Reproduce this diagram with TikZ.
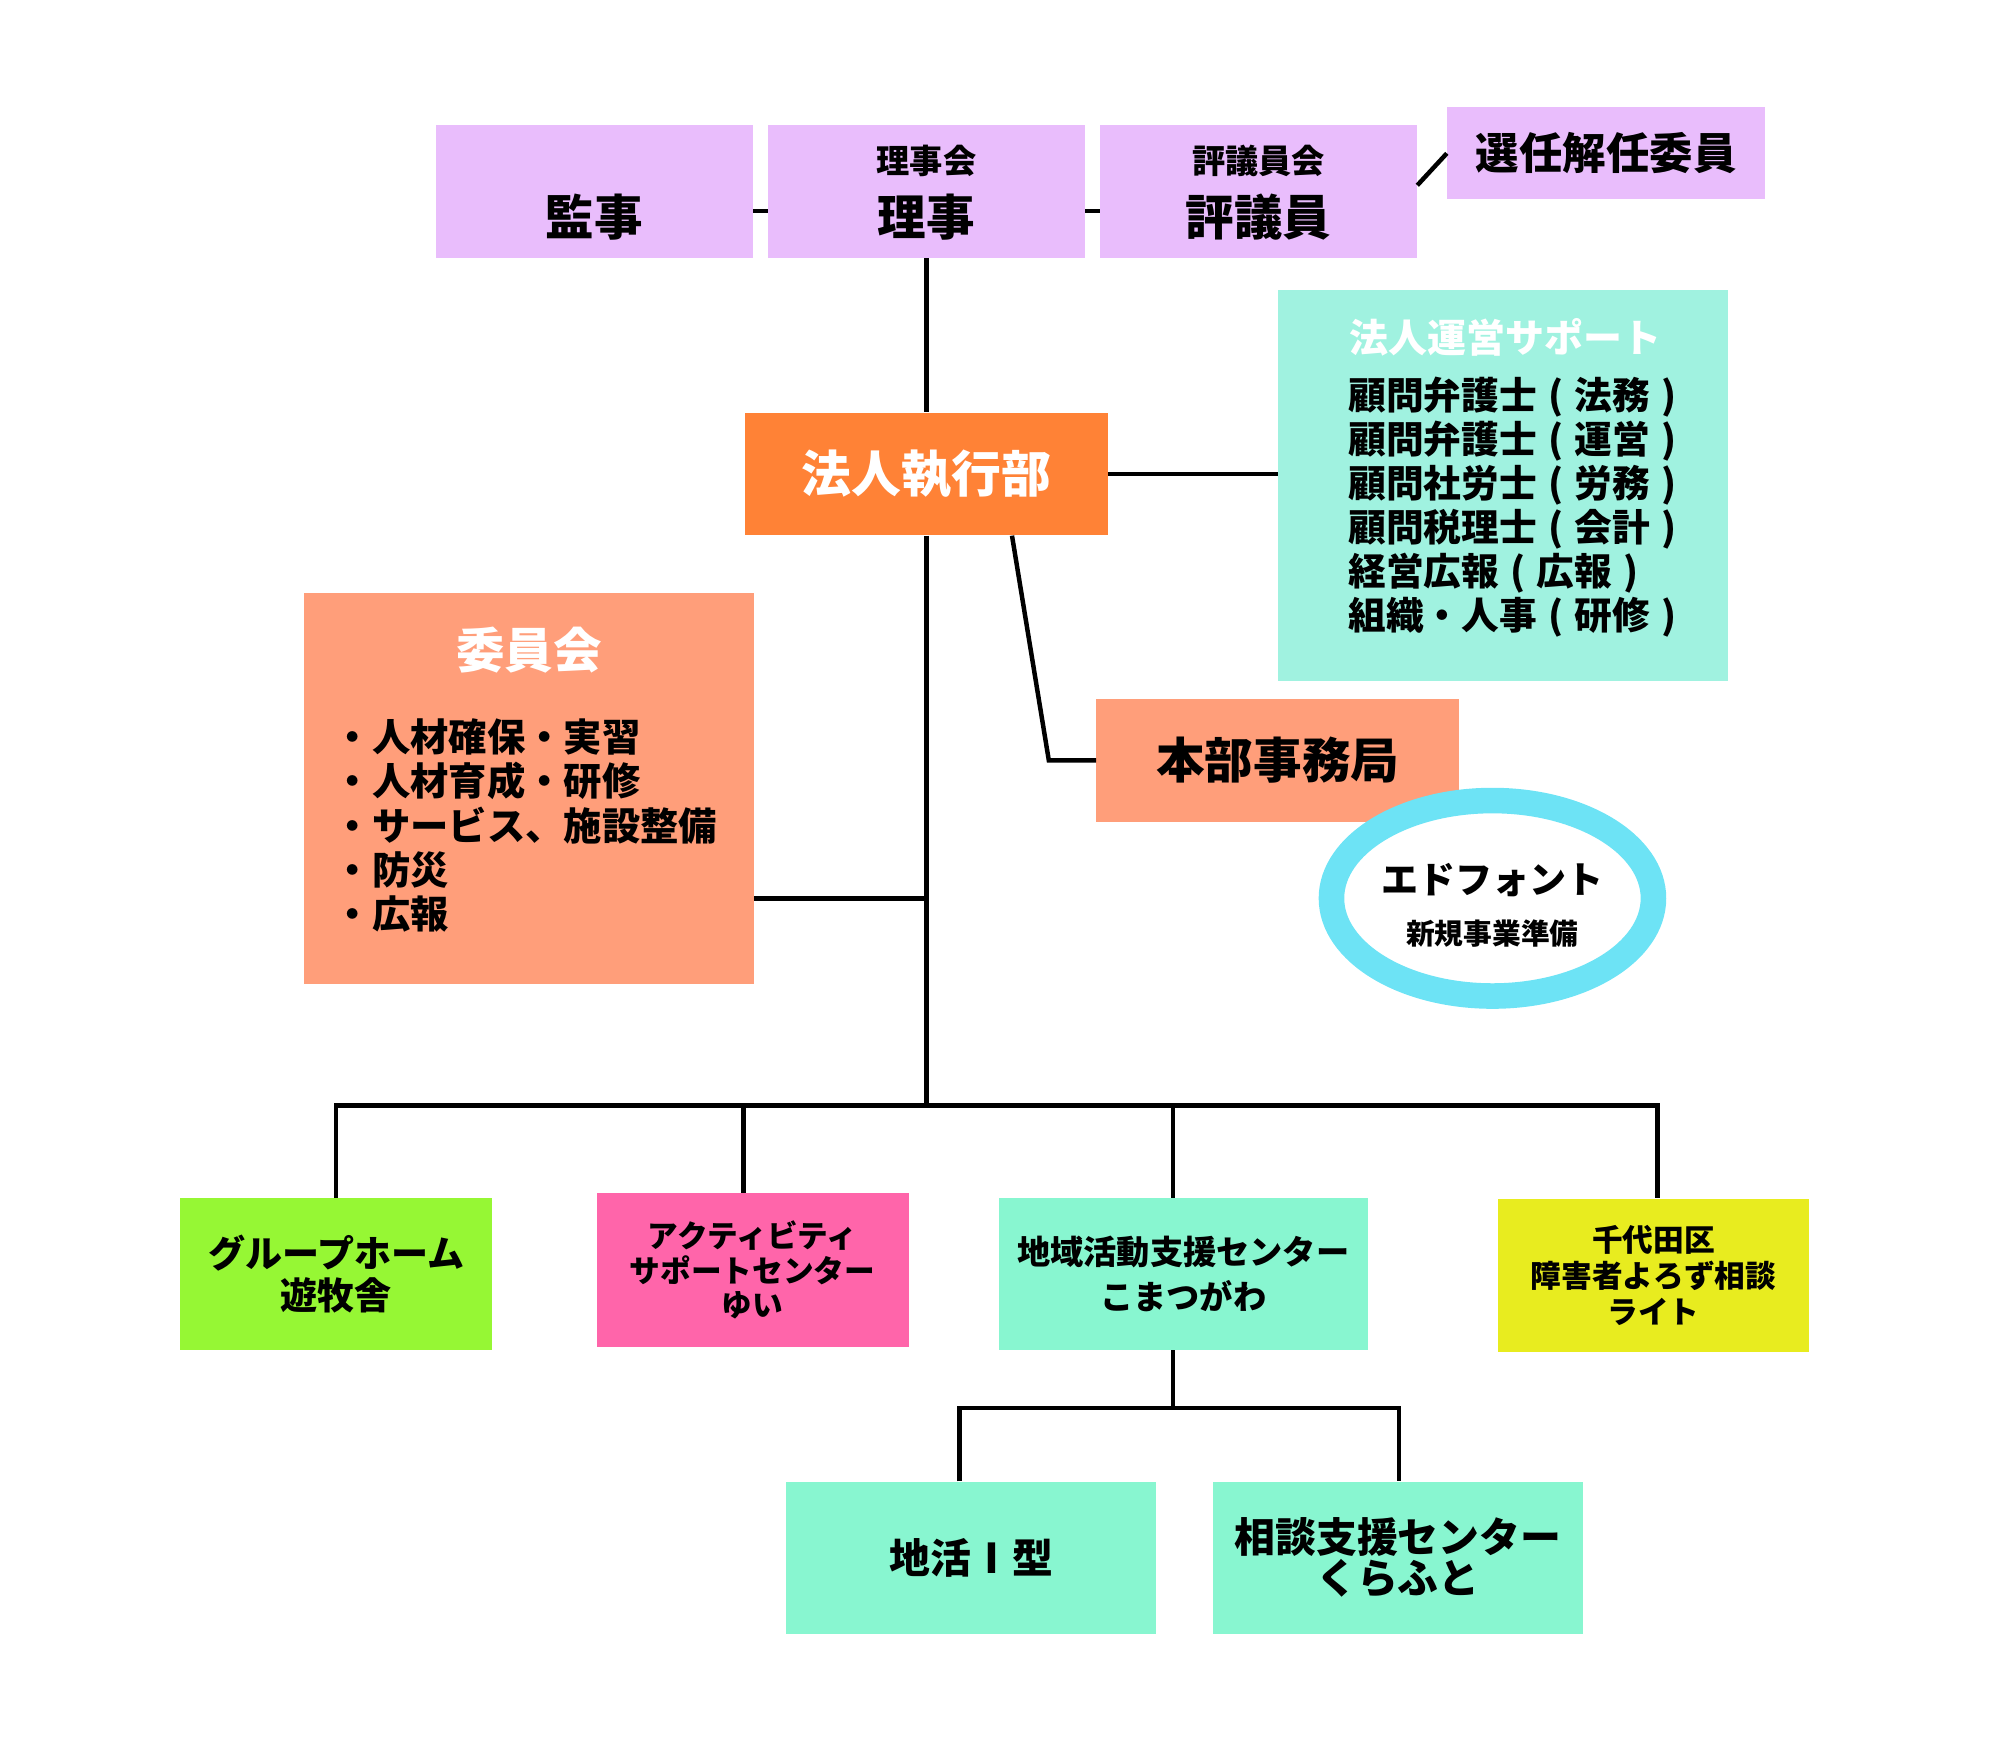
\documentclass[tikz,border=0pt]{standalone}
\usepackage{fontspec}
\setmainfont{Noto Sans CJK JP}
\usetikzlibrary{positioning, shapes.geometric}

\definecolor{BoardLavender}{HTML}{E9BDFC}
\definecolor{ExecOrange}{HTML}{FF8236}
\definecolor{OfficeSalmon}{HTML}{FF9E7A}
\definecolor{SupportMint}{HTML}{A0F2E0}
\definecolor{CenterMint}{HTML}{88F6D0}
\definecolor{HomeGreen}{HTML}{96F734}
\definecolor{ActivityPink}{HTML}{FF65AA}
\definecolor{ConsultYellow}{HTML}{E8EC1F}
\definecolor{RingCyan}{HTML}{6DE3F5}

% centred brackets, one full em wide
\newcommand{\lpar}{\makebox[1em][c]{(}}
\newcommand{\rpar}{\makebox[1em][c]{)}}

\begin{document}
\begin{tikzpicture}[x=1pt, y=-1pt,
    unitbox/.style={inner sep=0pt, align=center, text=black},
    link/.style={line width=3.5pt, black},
    txt/.style={inner sep=0pt, align=center, font=\bfseries\fontsize{#1}{#1}\selectfont},
    txt/.default=30]

\useasboundingbox (0,0) rectangle (1566,1366);

% board
\node[unitbox, fill=BoardLavender, minimum width=248pt, minimum height=104pt] (kanji) at (465,150) {};
\node[unitbox, fill=BoardLavender, minimum width=248pt, minimum height=104pt] (riji) at (725,150) {};
\node[unitbox, fill=BoardLavender, minimum width=248pt, minimum height=104pt] (hyogiin) at (985,150) {};
\node[unitbox, fill=BoardLavender, minimum width=249pt, minimum height=72pt] (senin) at (1257,120)
    {\bfseries\fontsize{34}{34}\selectfont 選任解任委員};
\node[txt=38] (kanjitext) at ([yshift=-20pt]kanji.center) {監事};
\node[txt=26] (rijicap) at ([yshift=24pt]riji.center) {理事会};
\node[txt=38] (rijitext) at ([yshift=-20pt]riji.center) {理事};
\node[txt=26] (hyogiincap) at ([yshift=24pt]hyogiin.center) {評議員会};
\node[txt=38] (hyogiintext) at ([yshift=-20pt]hyogiin.center) {評議員};

% executive
\node[unitbox, fill=ExecOrange, text=white, minimum width=284pt, minimum height=96pt,
    font=\bfseries\fontsize{39}{39}\selectfont] (shikko) at (725,371) {法人執行部};

\node[unitbox, fill=SupportMint, minimum width=352pt, minimum height=306pt] (support) at (1176,380) {};
\node[txt=30.5, text=white] (supporttitle) at (1178,264) {法人運営サポート};
\node[inner sep=0pt, align=left, anchor=west, font=\bfseries\fontsize{29.5}{34.5}\selectfont] (supportlist)
    at (1055,397) {顧問弁護士\lpar 法務\rpar\\顧問弁護士\lpar 運営\rpar\\顧問社労士\lpar 労務\rpar\\顧問税理士\lpar 会計\rpar\\経営広報\lpar 広報\rpar\\組織・人事\lpar 研修\rpar};

\node[unitbox, fill=OfficeSalmon, minimum width=284pt, minimum height=96pt,
    font=\bfseries\fontsize{38}{38}\selectfont] (honbu) at (1000,595) {本部事務局};

\node[unitbox, fill=OfficeSalmon, minimum width=352pt, minimum height=306pt] (iinkai) at (414,617) {};
\node[txt=38, text=white] (iinkaititle) at (414,509) {委員会};
\node[inner sep=0pt, align=left, anchor=west, font=\bfseries\fontsize{30}{34.5}\selectfont] (iinkailist)
    at (261,646) {・人材確保・実習\\・人材育成・研修\\・サービス、施設整備\\・防災\\・広報};

\node[ellipse, draw=RingCyan, fill=white, line width=20pt, minimum width=252pt, minimum height=153pt] (edfont) at (1168,703) {};
\node[txt=29] (edname) at (1168,689) {エドフォント};
\node[txt=22.5] (edsub) at (1168,731) {新規事業準備};

% facilities
\node[unitbox, fill=HomeGreen, minimum width=244pt, minimum height=119pt,
    font=\bfseries\fontsize{29}{33}\selectfont] (gh) at (263,997) {グループホーム\\遊牧舎};
\node[unitbox, fill=ActivityPink, minimum width=244pt, minimum height=120pt,
    font=\bfseries\fontsize{24}{27}\selectfont] (act) at (589,994) {アクティビティ\\サポートセンター\\ゆい};
\node[unitbox, fill=CenterMint, minimum width=289pt, minimum height=119pt,
    font=\bfseries\fontsize{26}{35}\selectfont] (chiiki) at (926,997) {地域活動支援センター\\こまつがわ};
\node[unitbox, fill=ConsultYellow, minimum width=244pt, minimum height=120pt,
    font=\bfseries\fontsize{24}{28}\selectfont] (chiyoda) at (1294,998) {千代田区\\障害者よろず相談\\ライト};
\node[unitbox, fill=CenterMint, minimum width=289pt, minimum height=119pt,
    font=\bfseries\fontsize{32}{32}\selectfont] (chikatsu) at (760,1219) {地活Ⅰ型};
\node[unitbox, fill=CenterMint, minimum width=289pt, minimum height=119pt,
    font=\bfseries\fontsize{32}{32}\selectfont] (soudan) at (1094,1219) {相談支援センター\\くらふと};

% connectors
\draw[link] ([yshift=-15pt]kanji.east) -- ([yshift=-15pt]riji.west);
\draw[link] ([yshift=-15pt]riji.east) -- ([yshift=-15pt]hyogiin.west);
\draw[link] ([yshift=5pt]hyogiin.east) -- (senin.west);
\draw[link] (riji.south) -- (shikko.north);
\draw[link] (shikko.east) -- (shikko.east -| support.west);
\draw[link] ([xshift=67pt]shikko.south) -- ([xshift=-37pt]honbu.west) -- (honbu.west);

\coordinate (hub) at (725,865);
\coordinate (iinkaijoin) at (725,703);
\coordinate (busL) at (263,865);
\coordinate (busA) at (582,865);
\coordinate (busB) at (918,865);
\coordinate (busR) at (1297,865);
\draw[link] (shikko.south) -- (hub);
\draw[link] (iinkaijoin -| iinkai.east) -- (iinkaijoin);
\draw[link] (busL |- gh.north) -- (busL) -- (busR) -- (busR |- chiyoda.north);
\draw[link] (busA) -- (busA |- act.north);
\draw[link] (busB) -- (busB |- chiiki.north);

\coordinate (subhub) at (918,1102);
\coordinate (subL) at (751,1102);
\coordinate (subR) at (1095,1102);
\draw[link] (busB |- chiiki.south) -- (subhub);
\draw[link] (subL |- chikatsu.north) -- (subL) -- (subR) -- (subR |- soudan.north);

\end{tikzpicture}
\end{document}
